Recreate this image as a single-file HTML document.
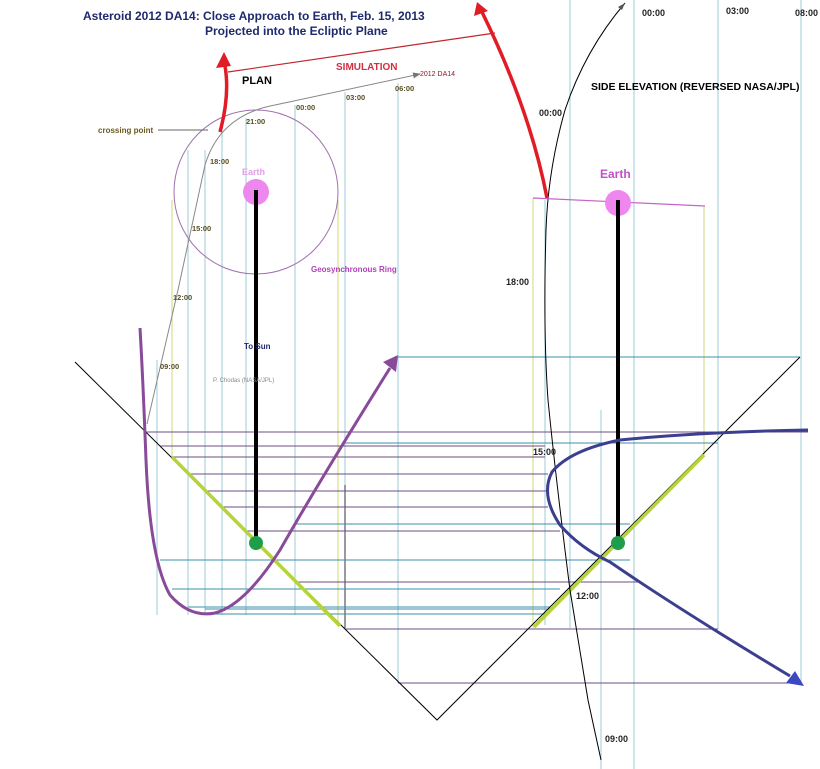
<!DOCTYPE html>
<html><head><meta charset="utf-8"><style>
html,body{margin:0;padding:0;background:#fff;width:820px;height:769px;overflow:hidden}
svg{display:block}
text{font-family:"Liberation Sans",sans-serif}
</style></head><body>
<svg width="820" height="769" viewBox="0 0 820 769" xmlns="http://www.w3.org/2000/svg">
<defs>
<marker id="ag" markerWidth="8" markerHeight="6" refX="7" refY="3" orient="auto" markerUnits="userSpaceOnUse"><path d="M0,0L8,3L0,6z" fill="#777"/></marker>
</defs>
<g stroke="#9ccbd8" stroke-width="1">
<line x1="157" y1="360" x2="157" y2="615"/>
<line x1="188" y1="150" x2="188" y2="615"/>
<line x1="205" y1="150" x2="205" y2="615"/>
<line x1="222" y1="130" x2="222" y2="615"/>
<line x1="246" y1="118" x2="246" y2="615"/>
<line x1="295" y1="105" x2="295" y2="615"/>
<line x1="345" y1="92" x2="345" y2="485"/>
<line x1="398" y1="83" x2="398" y2="683"/>
<line x1="545" y1="200" x2="545" y2="625"/>
<line x1="570" y1="0" x2="570" y2="628"/>
<line x1="601" y1="410" x2="601" y2="769"/>
<line x1="634" y1="0" x2="634" y2="769"/>
<line x1="718" y1="0" x2="718" y2="629"/>
<line x1="801" y1="0" x2="801" y2="683"/>
</g>
<g stroke="#cfd87a" stroke-width="1">
<line x1="172" y1="200" x2="172" y2="457"/>
<line x1="338" y1="200" x2="338" y2="625"/>
<line x1="533" y1="198" x2="533" y2="628"/>
<line x1="704" y1="206" x2="704" y2="455"/>
</g>
<line x1="345" y1="485" x2="345" y2="628" stroke="#334" stroke-width="1"/>
<g stroke="#6e4d82" stroke-width="1">
<line x1="145" y1="432" x2="808" y2="432"/>
<line x1="160" y1="446" x2="545" y2="446"/>
<line x1="172" y1="457" x2="545" y2="457"/>
<line x1="188" y1="474" x2="548" y2="474"/>
<line x1="205" y1="491" x2="548" y2="491"/>
<line x1="222" y1="507" x2="548" y2="507"/>
<line x1="246" y1="531" x2="560" y2="531"/>
<line x1="295" y1="582" x2="640" y2="582"/>
<line x1="345" y1="629" x2="718" y2="629"/>
<line x1="398" y1="683" x2="800" y2="683"/>
</g>
<g stroke="#3e8fa8" stroke-width="1">
<line x1="398" y1="357" x2="800" y2="357"/>
<line x1="345" y1="443" x2="718" y2="443"/>
<line x1="295" y1="524" x2="630" y2="524"/>
<line x1="160" y1="560" x2="630" y2="560"/>
<line x1="172" y1="589" x2="560" y2="589"/>
<line x1="188" y1="607" x2="550" y2="607"/>
<line x1="205" y1="609" x2="550" y2="609"/>
<line x1="215" y1="614" x2="545" y2="614"/>
</g>
<polyline points="75,362 437,720 800,357" fill="none" stroke="#000" stroke-width="1"/>
<line x1="172" y1="457" x2="340" y2="626" stroke="#b5d43a" stroke-width="3.5"/>
<line x1="534" y1="627" x2="704" y2="455" stroke="#b5d43a" stroke-width="3.5"/>
<circle cx="256" cy="192" r="82" fill="none" stroke="#a070b0" stroke-width="1"/>
<path d="M147,424 L178,290 L205,165 Q220,115 275,105 L420,74" fill="none" stroke="#888" stroke-width="1" marker-end="url(#ag)"/>
<line x1="158" y1="130" x2="208" y2="130" stroke="#666" stroke-width="1"/>
<path d="M625,3 Q585,50 565,110 Q548,170 546,230 Q543,330 548,400 Q556,480 570,590 L588,700 L601,760" fill="none" stroke="#000" stroke-width="1"/>
<path d="M618,7 L625,3 L622,10z" fill="#555"/>
<line x1="228" y1="72" x2="495" y2="33" stroke="#c2262e" stroke-width="1.2"/>
<path d="M220,132 Q230,95 225,66" fill="none" stroke="#e01c24" stroke-width="3.5"/>
<path d="M216,68 L224,52 L231,66z" fill="#e01c24"/>
<path d="M547,198 Q530,110 482,12" fill="none" stroke="#e01c24" stroke-width="3.5"/>
<path d="M474,16 L477,2 L488,11z" fill="#e01c24"/>
<line x1="533" y1="198" x2="705" y2="206" stroke="#c862c8" stroke-width="1.2"/>
<circle cx="256" cy="192" r="13" fill="#ee88ee"/>
<circle cx="618" cy="203" r="13" fill="#ee88ee"/>
<line x1="256" y1="190" x2="256" y2="543" stroke="#000" stroke-width="4"/>
<line x1="618" y1="200" x2="618" y2="543" stroke="#000" stroke-width="4"/>
<circle cx="256" cy="543" r="7" fill="#1e9e48"/>
<circle cx="618" cy="543" r="7" fill="#1e9e48"/>
<path d="M140,328 Q143,380 146,460 Q150,560 170,595 Q190,618 215,613 Q245,605 280,550 Q320,480 390,368" fill="none" stroke="#8a4a9a" stroke-width="3"/>
<path d="M383,362 L398,355 L396,372z" fill="#8a4a9a"/>
<path d="M808,430 Q700,432 620,440 Q570,450 552,472 Q540,495 560,525 Q580,548 610,562 Q680,610 790,676" fill="none" stroke="#3c3f8f" stroke-width="3"/>
<path d="M786,683 L804,686 L795,671z" fill="#3c48c0"/>
<g font-weight="bold" fill="#1e2a6e" font-size="12">
<text x="83" y="20">Asteroid 2012 DA14:  Close Approach to Earth, Feb. 15, 2013</text>
<text x="205" y="35">Projected into the Ecliptic Plane</text>
</g>
<text x="242" y="84" font-size="11" font-weight="bold" fill="#000">PLAN</text>
<text x="336" y="70" font-size="10" font-weight="bold" fill="#d03040">SIMULATION</text>
<text x="420" y="76" font-size="7" fill="#8b1a2a">2012 DA14</text>
<text x="98" y="133" font-size="8" font-weight="bold" fill="#6b5a20">crossing point</text>
<g font-size="7.5" font-weight="bold" fill="#5a5020">
<text x="246" y="124">21:00</text>
<text x="296" y="110">00:00</text>
<text x="346" y="100">03:00</text>
<text x="395" y="91">06:00</text>
<text x="210" y="164">18:00</text>
<text x="192" y="231">15:00</text>
<text x="173" y="300">12:00</text>
<text x="160" y="369">09:00</text>
</g>
<text x="242" y="175" font-size="9" font-weight="bold" fill="#e0a0e8">Earth</text>
<text x="600" y="178" font-size="12" font-weight="bold" fill="#c050c8">Earth</text>
<text x="311" y="272" font-size="8" font-weight="bold" fill="#b040b8">Geosynchronous Ring</text>
<text x="244" y="349" font-size="8" font-weight="bold" fill="#1e2a6e">To Sun</text>
<text x="213" y="382" font-size="6" fill="#888">P. Chodas (NASA/JPL)</text>
<text x="591" y="90" font-size="10.5" font-weight="bold" fill="#000">SIDE ELEVATION  (REVERSED NASA/JPL)</text>
<g font-size="9" font-weight="bold" fill="#222">
<text x="642" y="16">00:00</text>
<text x="726" y="14">03:00</text>
<text x="795" y="16">08:00</text>
<text x="539" y="116">00:00</text>
<text x="506" y="285">18:00</text>
<text x="533" y="455">15:00</text>
<text x="576" y="599">12:00</text>
<text x="605" y="742">09:00</text>
</g>
</svg>
</body></html>
